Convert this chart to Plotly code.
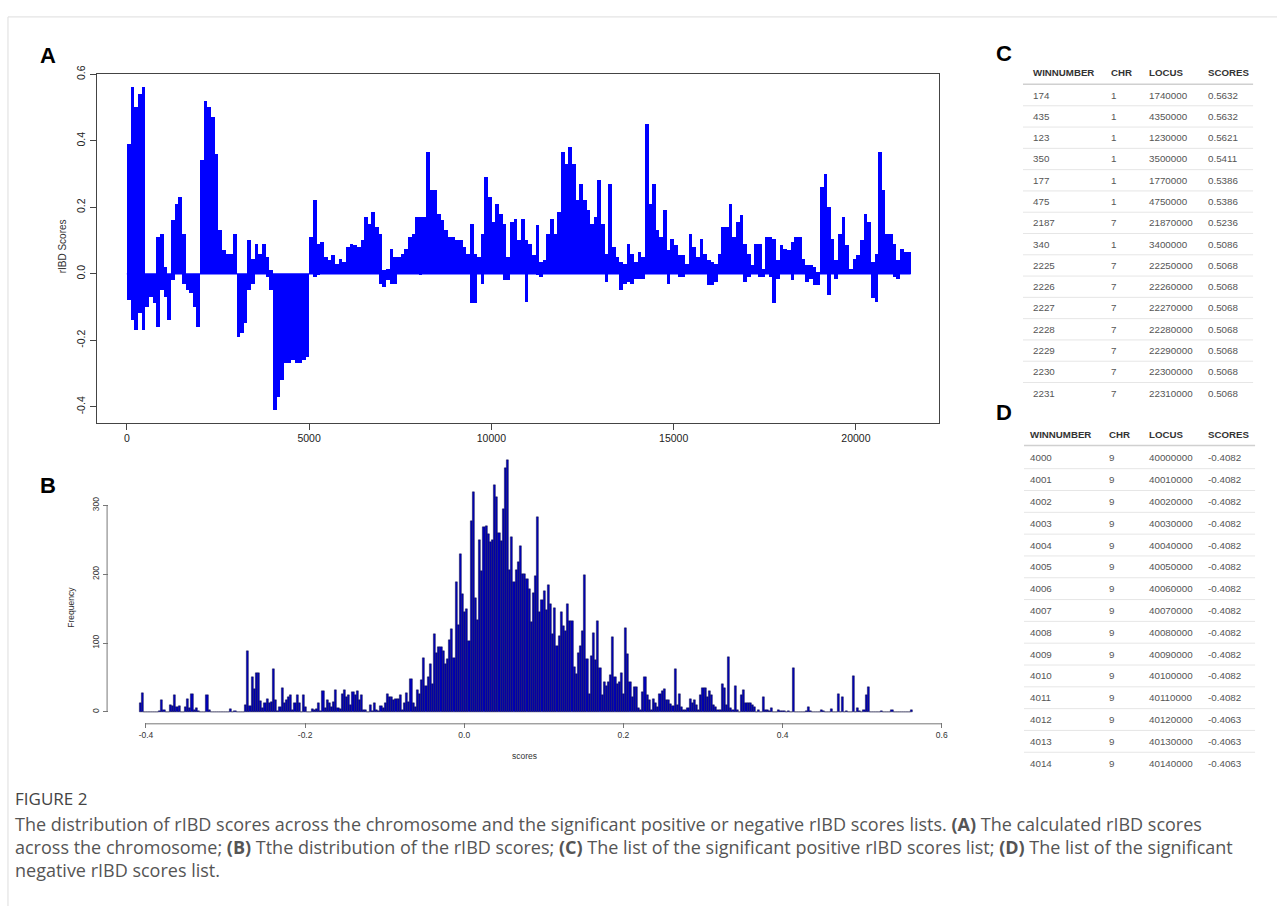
import plotly.graph_objects as go

W, H = 1282, 906

# ---------------- Panel A: rIBD scores per window (read as 100-window envelope) ----------------
WIN_PER_BIN = 100
rIBD_pos = [0.39, 0.56, 0.50, 0.54, 0.56, 0.0, 0.0, 0.0, 0.11, 0.12,
            0.02, 0.0, 0.16, 0.21, 0.23, 0.12, 0.0, 0.0, 0.0, 0.0,
            0.34, 0.52, 0.50, 0.47, 0.36, 0.13, 0.07, 0.06, 0.06, 0.12,
            0.0, 0.0, 0.0, 0.10, 0.045, 0.09, 0.06, 0.09, 0.05, 0.01,
            0.0, 0.0, 0.0, 0.0, 0.0, 0.0, 0.0, 0.0, 0.0, 0.0,
            0.11, 0.22, 0.09, 0.095, 0.05, 0.04, 0.055, 0.03, 0.045, 0.035,
            0.08, 0.09, 0.085, 0.08, 0.10, 0.17, 0.15, 0.185, 0.14, 0.12,
            0.01, 0.015, 0.075, 0.05, 0.05, 0.06, 0.075, 0.11, 0.12, 0.17,
            0.17, 0.17, 0.365, 0.25, 0.25, 0.18, 0.16, 0.13, 0.11, 0.11,
            0.10, 0.10, 0.08, 0.06, 0.15, 0.06, 0.05, 0.12, 0.29, 0.23,
            0.155, 0.21, 0.18, 0.15, 0.05, 0.155, 0.165, 0.10, 0.165, 0.10,
            0.09, 0.055, 0.145, 0.035, 0.04, 0.12, 0.165, 0.12, 0.185, 0.365,
            0.33, 0.38, 0.33, 0.22, 0.27, 0.22, 0.19, 0.15, 0.17, 0.28,
            0.15, 0.06, 0.27, 0.08, 0.05, 0.035, 0.03, 0.09, 0.06, 0.035,
            0.065, 0.05, 0.45, 0.21, 0.27, 0.13, 0.11, 0.19, 0.07, 0.105,
            0.085, 0.055, 0.055, 0.03, 0.12, 0.08, 0.05, 0.105, 0.06, 0.04,
            0.035, 0.03, 0.06, 0.14, 0.14, 0.21, 0.11, 0.155, 0.175, 0.09,
            0.06, 0.025, 0.09, 0.09, 0.015, 0.11, 0.11, 0.105, 0.04, 0.085,
            0.075, 0.07, 0.095, 0.11, 0.11, 0.045, 0.025, 0.025, 0.02, 0.005,
            0.26, 0.30, 0.20, 0.105, 0.04, 0.12, 0.17, 0.085, 0.015, 0.045,
            0.055, 0.10, 0.18, 0.155, 0.035, 0.06, 0.365, 0.25, 0.12, 0.12,
            0.09, 0.04, 0.075, 0.065, 0.065]
rIBD_neg = [-0.08, -0.14, -0.17, -0.12, -0.17, -0.10, -0.07, -0.09, -0.16, -0.05,
            -0.07, -0.14, -0.02, 0.0, 0.0, -0.03, -0.05, -0.06, -0.10, -0.16,
            0.0, 0.0, 0.0, 0.0, 0.0, 0.0, 0.0, 0.0, 0.0, 0.0,
            -0.19, -0.18, -0.15, -0.05, -0.03, 0.0, 0.0, 0.0, -0.01, -0.05,
            -0.41, -0.37, -0.32, -0.27, -0.27, -0.26, -0.27, -0.27, -0.26, -0.25,
            0.0, -0.01, -0.005, 0.0, 0.0, 0.0, 0.0, 0.0, 0.0, 0.0,
            0.0, 0.0, 0.0, 0.0, 0.0, 0.0, 0.0, 0.0, 0.0, -0.03,
            -0.04, -0.02, -0.03, -0.03, 0.0, 0.0, 0.0, 0.0, 0.0, 0.0,
            -0.005, 0.0, 0.0, 0.0, 0.0, 0.0, 0.0, 0.0, 0.0, 0.0,
            0.0, 0.0, 0.0, 0.0, -0.09, -0.09, 0.0, -0.03, 0.0, 0.0,
            0.0, 0.0, 0.0, -0.02, -0.02, 0.0, 0.0, 0.0, 0.0, -0.085,
            0.0, 0.0, -0.005, -0.01, 0.0, 0.0, 0.0, 0.0, 0.0, 0.0,
            0.0, 0.0, 0.0, 0.0, 0.0, 0.0, 0.0, 0.0, 0.0, 0.0,
            0.0, -0.025, 0.0, 0.0, 0.0, -0.05, -0.03, -0.025, -0.03, -0.015,
            -0.015, -0.015, 0.0, 0.0, 0.0, 0.0, 0.0, 0.0, -0.03, 0.0,
            0.0, -0.01, -0.01, 0.0, 0.0, 0.0, 0.0, 0.0, 0.0, -0.035,
            -0.035, -0.025, 0.0, 0.0, 0.0, 0.0, 0.0, 0.0, 0.0, -0.025,
            -0.01, 0.0, 0.0, -0.01, -0.01, 0.0, -0.01, -0.09, -0.015, 0.0,
            0.0, 0.0, -0.02, 0.0, 0.0, 0.0, -0.025, -0.015, -0.035, -0.035,
            0.0, 0.0, -0.065, 0.0, -0.015, 0.0, 0.0, 0.0, 0.0, 0.0,
            0.0, 0.0, 0.0, 0.0, -0.075, -0.085, 0.0, 0.0, 0.0, 0.0,
            -0.01, -0.015, 0.0, 0.0, 0.0]
a_xticks = [0, 5000, 10000, 15000, 20000]
a_yticks = [-0.4, -0.2, 0.0, 0.2, 0.4, 0.6]

# ---------------- Panel B: histogram of scores ----------------
score_min, score_max = -0.4082, 0.5632
freq = [12, 27, 0, 0, 0, 0, 0, 0, 0, 1,
        17, 2, 0, 0, 10, 8, 24, 7, 8, 0,
        0, 7, 18, 5, 26, 3, 6, 1, 0, 0,
        0, 24, 2, 0, 0, 0, 0, 0, 0, 0,
        0, 0, 4, 0, 1, 0, 0, 0, 0, 10,
        88, 8, 50, 33, 57, 56, 15, 5, 13, 18,
        12, 14, 62, 17, 1, 7, 35, 12, 17, 22,
        24, 2, 12, 24, 13, 0, 24, 7, 0, 0,
        4, 2, 4, 13, 1, 30, 5, 17, 12, 7,
        14, 32, 5, 4, 26, 32, 22, 24, 10, 29,
        24, 30, 17, 25, 3, 2, 0, 10, 1, 12,
        2, 1, 8, 5, 12, 26, 22, 22, 17, 19,
        18, 24, 3, 13, 27, 14, 48, 12, 7, 32,
        26, 46, 78, 37, 51, 70, 41, 113, 86, 94,
        94, 89, 70, 76, 104, 121, 78, 188, 126, 230,
        171, 145, 149, 103, 277, 319, 166, 134, 250, 204,
        269, 270, 259, 247, 250, 330, 312, 260, 249, 295,
        355, 366, 206, 254, 189, 206, 218, 241, 200, 200,
        193, 179, 130, 172, 197, 283, 145, 163, 176, 148,
        184, 156, 113, 151, 96, 110, 145, 125, 118, 157,
        132, 132, 65, 55, 85, 96, 118, 199, 76, 26,
        81, 115, 75, 132, 64, 25, 43, 37, 43, 53,
        109, 50, 40, 43, 57, 26, 122, 84, 43, 22,
        36, 36, 5, 2, 28, 50, 24, 17, 2, 19,
        12, 7, 26, 30, 33, 17, 17, 11, 8, 62,
        10, 26, 7, 2, 2, 5, 19, 12, 17, 10,
        2, 24, 35, 35, 22, 30, 24, 10, 7, 2,
        3, 41, 35, 10, 79, 5, 2, 37, 2, 0,
        24, 31, 12, 13, 12, 10, 7, 0, 2, 0,
        22, 2, 3, 1, 5, 0, 0, 2, 1, 1,
        1, 0, 1, 0, 64, 0, 0, 0, 0, 0,
        1, 7, 1, 0, 0, 0, 0, 2, 1, 0,
        0, 0, 4, 0, 0, 26, 0, 22, 0, 1,
        0, 0, 52, 0, 5, 1, 0, 2, 24, 36,
        0, 0, 0, 0, 0, 1, 0, 0, 0, 0,
        2, 0, 0, 0, 0, 0, 0, 0, 0, 2]
b_xticks = [-0.4, -0.2, 0.0, 0.2, 0.4, 0.6]
b_yticks = [0, 100, 200, 300]

# ---------------- Tables C and D ----------------
tbl_header = ["WINNUMBER", "CHR", "LOCUS", "SCORES"]
c_win = [174, 435, 123, 350, 177, 475, 2187, 340, 2225, 2226, 2227, 2228, 2229, 2230, 2231]
c_chr = [1, 1, 1, 1, 1, 1, 7, 1, 7, 7, 7, 7, 7, 7, 7]
c_locus = [1740000, 4350000, 1230000, 3500000, 1770000, 4750000, 21870000, 3400000,
           22250000, 22260000, 22270000, 22280000, 22290000, 22300000, 22310000]
c_scores = ["0.5632", "0.5632", "0.5621", "0.5411", "0.5386", "0.5386", "0.5236", "0.5086",
            "0.5068", "0.5068", "0.5068", "0.5068", "0.5068", "0.5068", "0.5068"]
d_win = [4000, 4001, 4002, 4003, 4004, 4005, 4006, 4007, 4008, 4009, 4010, 4011, 4012, 4013, 4014]
d_chr = [9, 9, 9, 9, 9, 9, 9, 9, 9, 9, 9, 9, 9, 9, 9]
d_locus = [40000000, 40010000, 40020000, 40030000, 40040000, 40050000, 40060000, 40070000,
           40080000, 40090000, 40100000, 40110000, 40120000, 40130000, 40140000]
d_scores = ["-0.4082", "-0.4082", "-0.4082", "-0.4082", "-0.4082", "-0.4082", "-0.4082", "-0.4082",
            "-0.4082", "-0.4082", "-0.4082", "-0.4082", "-0.4063", "-0.4063", "-0.4063"]

caption_title = "FIGURE 2"
caption_lines = [
    "The distribution of rIBD scores across the chromosome and the significant positive or negative rIBD scores lists. <b>(A)</b> The calculated rIBD scores",
    "across the chromosome; <b>(B)</b> Tthe distribution of the rIBD scores; <b>(C)</b> The list of the significant positive rIBD scores list; <b>(D)</b> The list of the significant",
    "negative rIBD scores list.",
]

# ---------------- helpers ----------------
def fx(px):
    return px / W

def fy(py):
    return 1 - py / H

FONT = "Liberation Sans, Arial, Helvetica, sans-serif"
CAPFONT = "Open Sans, Liberation Sans, sans-serif"

fig = go.Figure()

a_x = [WIN_PER_BIN * (i + 0.5) for i in range(len(rIBD_pos))]
fig.add_trace(go.Bar(x=a_x, y=rIBD_pos, width=WIN_PER_BIN, marker=dict(color="#0000FF", line=dict(width=0)),
                     xaxis="x", yaxis="y", showlegend=False, hoverinfo="skip"))
fig.add_trace(go.Bar(x=a_x, y=rIBD_neg, width=WIN_PER_BIN, marker=dict(color="#0000FF", line=dict(width=0)),
                     xaxis="x", yaxis="y", showlegend=False, hoverinfo="skip"))
fig.add_trace(go.Scatter(x=[a_x[0] - WIN_PER_BIN / 2, a_x[-1] + WIN_PER_BIN / 2], y=[0, 0], mode="lines",
                         line=dict(color="#0000FF", width=1.2), xaxis="x", yaxis="y",
                         showlegend=False, hoverinfo="skip"))

bw = (score_max - score_min) / len(freq)
b_x = [score_min + (i + 0.5) * bw for i in range(len(freq))]
fig.add_trace(go.Bar(x=b_x, y=freq, width=bw,
                     marker=dict(color="#0000B8", line=dict(color="#10103a", width=0.45)),
                     xaxis="x2", yaxis="y2", showlegend=False, hoverinfo="skip"))

annotations = []
shapes = []

# panel letters
for letter, (px, py) in {"A": (48, 47), "B": (48, 481), "C": (1008, 45), "D": (1008, 408)}.items():
    annotations.append(dict(text="<b>%s</b>" % letter, x=fx(px), y=fy(py), xref="paper", yref="paper",
                            xanchor="center", yanchor="middle", showarrow=False,
                            font=dict(family=FONT, size=22, color="#000")))

# axis titles
annotations.append(dict(text="rIBD Scores", x=fx(63), y=fy(240), xref="paper", yref="paper", textangle=-90,
                        showarrow=False, xanchor="center", yanchor="middle",
                        font=dict(family=FONT, size=10, color="#333")))
annotations.append(dict(text="Frequency", x=fx(71), y=fy(604), xref="paper", yref="paper", textangle=-90,
                        showarrow=False, xanchor="center", yanchor="middle",
                        font=dict(family=FONT, size=8.5, color="#333")))
annotations.append(dict(text="scores", x=fx(527), y=fy(754), xref="paper", yref="paper",
                        showarrow=False, xanchor="center", yanchor="middle",
                        font=dict(family=FONT, size=8.5, color="#333")))

# axis lines for panel B (R style: span tick range only)
shapes.append(dict(type="line", xref="x2", yref="paper", x0=b_xticks[0], x1=b_xticks[-1],
                   y0=fy(722), y1=fy(722), line=dict(color="#777", width=1)))
shapes.append(dict(type="line", xref="paper", yref="y2", x0=fx(107.5), x1=fx(107.5),
                   y0=b_yticks[0], y1=b_yticks[-1], line=dict(color="#777", width=1)))

# tables
def add_table(x_cols, y_header, y_first, row_h, rows, line_x0, line_x1, header_line_y):
    for j, h in enumerate(tbl_header):
        annotations.append(dict(text="<b>%s</b>" % h, x=fx(x_cols[j]), y=fy(y_header), xref="paper", yref="paper",
                                xanchor="left", yanchor="middle", showarrow=False,
                                font=dict(family=FONT, size=9.7, color="#333")))
    shapes.append(dict(type="line", xref="paper", yref="paper", x0=fx(line_x0), x1=fx(line_x1),
                       y0=fy(header_line_y), y1=fy(header_line_y), line=dict(color="#d0d0d0", width=1.5)))
    for i, row in enumerate(rows):
        yy = y_first + i * row_h
        for j, val in enumerate(row):
            annotations.append(dict(text=str(val), x=fx(x_cols[j]), y=fy(yy), xref="paper", yref="paper",
                                    xanchor="left", yanchor="middle", showarrow=False,
                                    font=dict(family=FONT, size=9.8, color="#555")))
        if i < len(rows) - 1:
            ly = yy + row_h / 2
            shapes.append(dict(type="line", xref="paper", yref="paper", x0=fx(line_x0), x1=fx(line_x1),
                               y0=fy(ly), y1=fy(ly), line=dict(color="#e6e6e6", width=1)))

add_table([1035.5, 1113.5, 1151, 1211], 64.5, 87, 21.5,
          list(zip(c_win, c_chr, c_locus, c_scores)), 1027, 1258, 76)
add_table([1032, 1111.5, 1151, 1211], 429.5, 453.3, 22.03,
          list(zip(d_win, d_chr, d_locus, d_scores)), 1028, 1260, 441)

# caption
annotations.append(dict(text=caption_title, x=fx(13), y=fy(797), xref="paper", yref="paper",
                        xanchor="left", yanchor="middle", showarrow=False,
                        font=dict(family=CAPFONT, size=17, color="#444")))
for k, line in enumerate(caption_lines):
    annotations.append(dict(text=line, x=fx(13), y=fy(823 + k * 23.5), xref="paper", yref="paper",
                            xanchor="left", yanchor="middle", showarrow=False,
                            font=dict(family=CAPFONT, size=18, color="#555")))

# page frame lines
shapes.append(dict(type="line", xref="paper", yref="paper", x0=fx(8), x1=1, y0=fy(8), y1=fy(8),
                   line=dict(color="#dddddd", width=1)))
shapes.append(dict(type="line", xref="paper", yref="paper", x0=fx(8), x1=fx(8), y0=fy(8), y1=0,
                   line=dict(color="#dddddd", width=1)))

tickfont_a = dict(family=FONT, size=10.5, color="#222")
tickfont_b = dict(family=FONT, size=8.5, color="#333")

fig.update_layout(
    width=W, height=H, autosize=False,
    margin=dict(l=0, r=0, t=0, b=0),
    paper_bgcolor="white", plot_bgcolor="white",
    barmode="overlay", bargap=0,
    showlegend=False,
    xaxis=dict(domain=[fx(97), fx(943)], range=[-828, 22287], anchor="y",
               tickmode="array", tickvals=a_xticks, ticktext=[str(v) for v in a_xticks],
               ticks="outside", ticklen=6, tickcolor="#444",
               showline=True, mirror=True, linecolor="#444", linewidth=1, showgrid=False, zeroline=False,
               tickfont=tickfont_a, fixedrange=True),
    yaxis=dict(domain=[fy(418), fy(66)], range=[-0.448, 0.6], anchor="x",
               tickmode="array", tickvals=a_yticks, ticktext=["%.1f" % v for v in a_yticks],
               tickangle=-90, ticks="outside", ticklen=6, tickcolor="#444",
               showline=True, mirror=True, linecolor="#444", linewidth=1, showgrid=False, zeroline=False,
               tickfont=tickfont_a, fixedrange=True),
    xaxis2=dict(domain=[fx(109), fx(947)], range=[-0.447, 0.602], anchor="y2",
                tickmode="array", tickvals=b_xticks, ticktext=["%.1f" % v for v in b_xticks],
                ticks="outside", ticklen=5, tickcolor="#777",
                showline=False, showgrid=False, zeroline=False, tickfont=tickfont_b, fixedrange=True),
    yaxis2=dict(domain=[fy(720), fy(445.5)], range=[-14.6, 380.6], anchor="x2",
                tickmode="array", tickvals=b_yticks, tickangle=-90,
                ticks="outside", ticklen=5, tickcolor="#777",
                showline=False, showgrid=False, zeroline=False, tickfont=tickfont_b, fixedrange=True),
    annotations=annotations,
    shapes=shapes,
)

post = ("document.documentElement.style.margin='0';document.body.style.margin='0';"
        "document.body.style.padding='0';document.body.style.overflow='hidden';"
        "var gd=document.getElementById('{plot_id}');gd.style.position='absolute';"
        "gd.style.left='0px';gd.style.top='0px';")
fig.write_html("out.html", config={"responsive": False, "displayModeBar": False}, post_script=post)
